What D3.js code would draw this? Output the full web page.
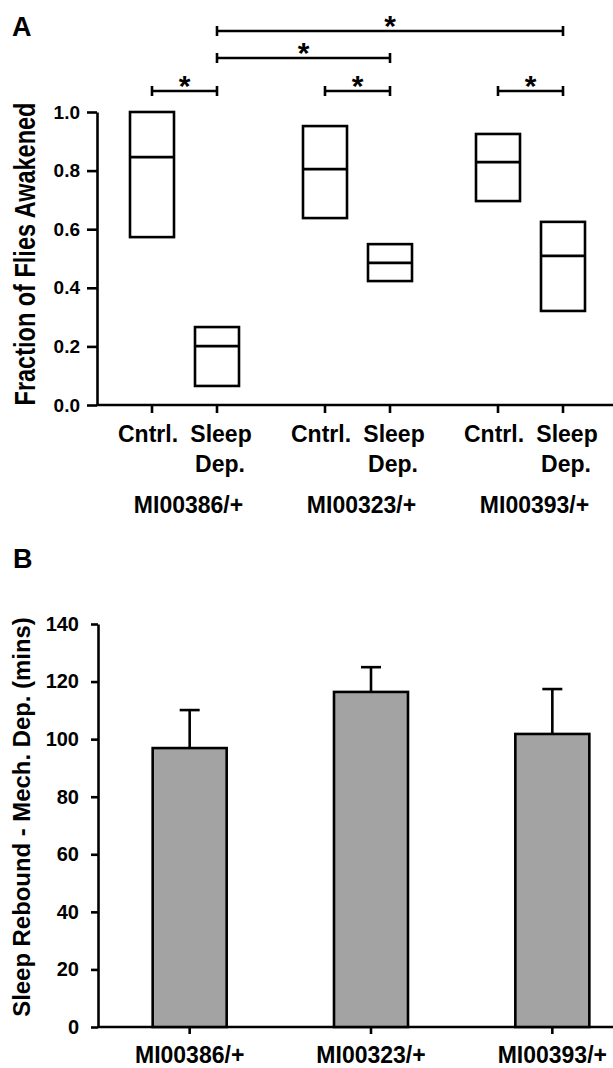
<!DOCTYPE html>
<html>
<head>
<meta charset="utf-8">
<script src="https://cdn.jsdelivr.net/npm/d3@7"></script>
<style>
  body { margin: 0; background: #fff; }
  svg text { font-family: "Liberation Sans", Arial, sans-serif; font-weight: bold; fill: #000; }
</style>
</head>
<body>
<div id="fig"></div>
<script>
// Data
const genotypes = ["MI00386/+", "MI00323/+", "MI00393/+"];
const conditions = ["Cntrl.", "Sleep Dep."];

// Panel A: floating boxes (min, median, max) per genotype x condition
const boxLow    = [0.573, 0.065, 0.638, 0.423, 0.696, 0.321];
const boxMedian = [0.846, 0.201, 0.805, 0.485, 0.829, 0.509];
const boxHigh   = [1.000, 0.266, 0.952, 0.549, 0.925, 0.625];
const yTicksA   = [0, 0.2, 0.4, 0.6, 0.8, 1.0];

// Significance brackets: [from box, to box, level]
const sigFrom  = [0, 2, 4, 1, 1];
const sigTo    = [1, 3, 5, 3, 5];
const sigLevel = [0, 0, 0, 1, 2];

// Panel B: mean and error bar size
const reboundMean = [96.9, 116.4, 101.8];
const reboundErr  = [13.2, 8.6, 15.6];
const yTicksB     = [0, 20, 40, 60, 80, 100, 120, 140];

const W = 613, H = 1068;
const svg = d3.select("#fig").append("svg")
    .attr("width", W)
    .attr("height", H);

const stroke = 2.6;

// ---------- Panel A ----------
const A = {left: 97, right: 613, top: 112, bottom: 405};

const yA = d3.scaleLinear().domain([0, 1]).range([A.bottom, A.top]);
const groupX = d3.scaleBand().domain(genotypes).range([98, 617]);
const condX = d3.scalePoint().domain(conditions).range([-32.5, 32.5]);

// one entry per box
const boxes = [];
genotypes.forEach((g, gi) => {
    conditions.forEach((c, ci) => {
        const i = gi * 2 + ci;
        boxes.push({g: g, c: c, low: boxLow[i], med: boxMedian[i], high: boxHigh[i],
                    x: groupX(g) + groupX.bandwidth() / 2 + condX(c)});
    });
});

svg.append("text")
    .attr("x", 12).attr("y", 36)
    .style("font-size", "27px")
    .text("A");

// y axis
const yAxisA = svg.append("g")
    .attr("transform", `translate(${A.left},0)`)
    .call(d3.axisLeft(yA).tickValues(yTicksA).tickFormat(d3.format(".1f"))
          .tickSize(10).tickSizeOuter(0).tickPadding(7));
yAxisA.selectAll("path, line").attr("stroke", "#000").attr("stroke-width", stroke);
yAxisA.selectAll("text").style("font-size", "19px")
    .style("font-family", "'Liberation Sans', Arial, sans-serif").style("font-weight", "bold");

// x axis line and ticks
svg.append("line")
    .attr("x1", A.left).attr("x2", A.right)
    .attr("y1", A.bottom).attr("y2", A.bottom)
    .attr("stroke", "#000").attr("stroke-width", stroke);
svg.selectAll(".xtickA").data(boxes).enter().append("line")
    .attr("x1", d => d.x).attr("x2", d => d.x)
    .attr("y1", A.bottom).attr("y2", A.bottom + 8)
    .attr("stroke", "#000").attr("stroke-width", stroke);

// condition labels
boxes.forEach(b => {
    if (b.c === "Cntrl.") {
        svg.append("text").attr("x", b.x - 4).attr("y", 442)
            .attr("text-anchor", "middle").style("font-size", "23px").text("Cntrl.");
    } else {
        svg.append("text").attr("x", b.x + 4).attr("y", 442)
            .attr("text-anchor", "middle").style("font-size", "23px").text("Sleep");
        svg.append("text").attr("x", b.x + 3).attr("y", 472)
            .attr("text-anchor", "middle").style("font-size", "23px").text("Dep.");
    }
});
svg.selectAll(".grpA").data(genotypes).enter().append("text")
    .attr("x", d => groupX(d) + groupX.bandwidth() / 2 + 4)
    .attr("y", 513)
    .attr("text-anchor", "middle")
    .style("font-size", "23px")
    .text(d => d);

// y axis title (glyphs in the original are drawn tall)
svg.append("text")
    .attr("transform", `translate(35,254) rotate(-90) scale(1,1.28)`)
    .attr("text-anchor", "middle")
    .style("font-size", "23.5px")
    .text("Fraction of Flies Awakened");

// floating boxes
const boxW = 44;
const bx = svg.append("g");
bx.selectAll("rect").data(boxes).enter().append("rect")
    .attr("x", d => d.x - boxW / 2)
    .attr("y", d => yA(d.high))
    .attr("width", boxW)
    .attr("height", d => yA(d.low) - yA(d.high))
    .attr("fill", "none").attr("stroke", "#000").attr("stroke-width", stroke);
bx.selectAll("line").data(boxes).enter().append("line")
    .attr("x1", d => d.x - boxW / 2).attr("x2", d => d.x + boxW / 2)
    .attr("y1", d => yA(d.med)).attr("y2", d => yA(d.med))
    .attr("stroke", "#000").attr("stroke-width", stroke);

// significance brackets
const levelY = [91, 58, 31];
const sig = sigFrom.map((f, i) => ({x1: boxes[f].x, x2: boxes[sigTo[i]].x, y: levelY[sigLevel[i]]}));
const sg = svg.append("g");
sg.selectAll(".sigline").data(sig).enter().append("line")
    .attr("x1", d => d.x1).attr("x2", d => d.x2)
    .attr("y1", d => d.y).attr("y2", d => d.y)
    .attr("stroke", "#000").attr("stroke-width", stroke);
sg.selectAll(".capL").data(sig).enter().append("line")
    .attr("x1", d => d.x1).attr("x2", d => d.x1)
    .attr("y1", d => d.y - 5).attr("y2", d => d.y + 5)
    .attr("stroke", "#000").attr("stroke-width", stroke);
sg.selectAll(".capR").data(sig).enter().append("line")
    .attr("x1", d => d.x2).attr("x2", d => d.x2)
    .attr("y1", d => d.y - 5).attr("y2", d => d.y + 5)
    .attr("stroke", "#000").attr("stroke-width", stroke);
sg.selectAll(".star").data(sig).enter().append("text")
    .attr("x", d => (d.x1 + d.x2) / 2)
    .attr("y", d => d.y + 5)
    .attr("text-anchor", "middle")
    .style("font-size", "30px")
    .text("*");

// ---------- Panel B ----------
const B = {left: 98, right: 613, top: 624, bottom: 1027};

svg.append("text")
    .attr("x", 13).attr("y", 568)
    .style("font-size", "27px")
    .text("B");

const yB = d3.scaleLinear().domain([0, 140]).range([B.bottom, B.top]);
const xB = d3.scaleBand().domain(genotypes).range([99, 643]);
const barW = 74;

const yAxisB = svg.append("g")
    .attr("transform", `translate(${B.left},0)`)
    .call(d3.axisLeft(yB).tickValues(yTicksB).tickSize(7).tickSizeOuter(0).tickPadding(12));
yAxisB.selectAll("path, line").attr("stroke", "#000").attr("stroke-width", stroke);
yAxisB.selectAll("text").style("font-size", "20px")
    .style("font-family", "'Liberation Sans', Arial, sans-serif").style("font-weight", "bold");

svg.append("line")
    .attr("x1", B.left).attr("x2", B.right)
    .attr("y1", B.bottom).attr("y2", B.bottom)
    .attr("stroke", "#000").attr("stroke-width", stroke);

const bars = genotypes.map((g, i) => ({g: g, mean: reboundMean[i], err: reboundErr[i],
                                        x: xB(g) + xB.bandwidth() / 2}));

svg.selectAll(".xtickB").data(bars).enter().append("line")
    .attr("x1", d => d.x).attr("x2", d => d.x)
    .attr("y1", B.bottom).attr("y2", B.bottom + 7)
    .attr("stroke", "#000").attr("stroke-width", stroke);

// error bars (drawn behind the bars)
svg.selectAll(".errB").data(bars).enter().append("line")
    .attr("x1", d => d.x).attr("x2", d => d.x)
    .attr("y1", d => yB(d.mean)).attr("y2", d => yB(d.mean + d.err))
    .attr("stroke", "#000").attr("stroke-width", stroke);
svg.selectAll(".capB").data(bars).enter().append("line")
    .attr("x1", d => d.x - 10).attr("x2", d => d.x + 10)
    .attr("y1", d => yB(d.mean + d.err)).attr("y2", d => yB(d.mean + d.err))
    .attr("stroke", "#000").attr("stroke-width", stroke);

svg.selectAll(".barB").data(bars).enter().append("rect")
    .attr("x", d => d.x - barW / 2)
    .attr("y", d => yB(d.mean))
    .attr("width", barW)
    .attr("height", d => yB(0) - yB(d.mean))
    .attr("fill", "#a3a3a3").attr("stroke", "#000").attr("stroke-width", stroke);

svg.selectAll(".lblB").data(bars).enter().append("text")
    .attr("x", d => d.x)
    .attr("y", 1063)
    .attr("text-anchor", "middle")
    .style("font-size", "23px")
    .text(d => d.g);

svg.append("text")
    .attr("transform", `translate(30,817) rotate(-90)`)
    .attr("text-anchor", "middle")
    .style("font-size", "23.9px")
    .text("Sleep Rebound - Mech. Dep. (mins)");
</script>
</body>
</html>
